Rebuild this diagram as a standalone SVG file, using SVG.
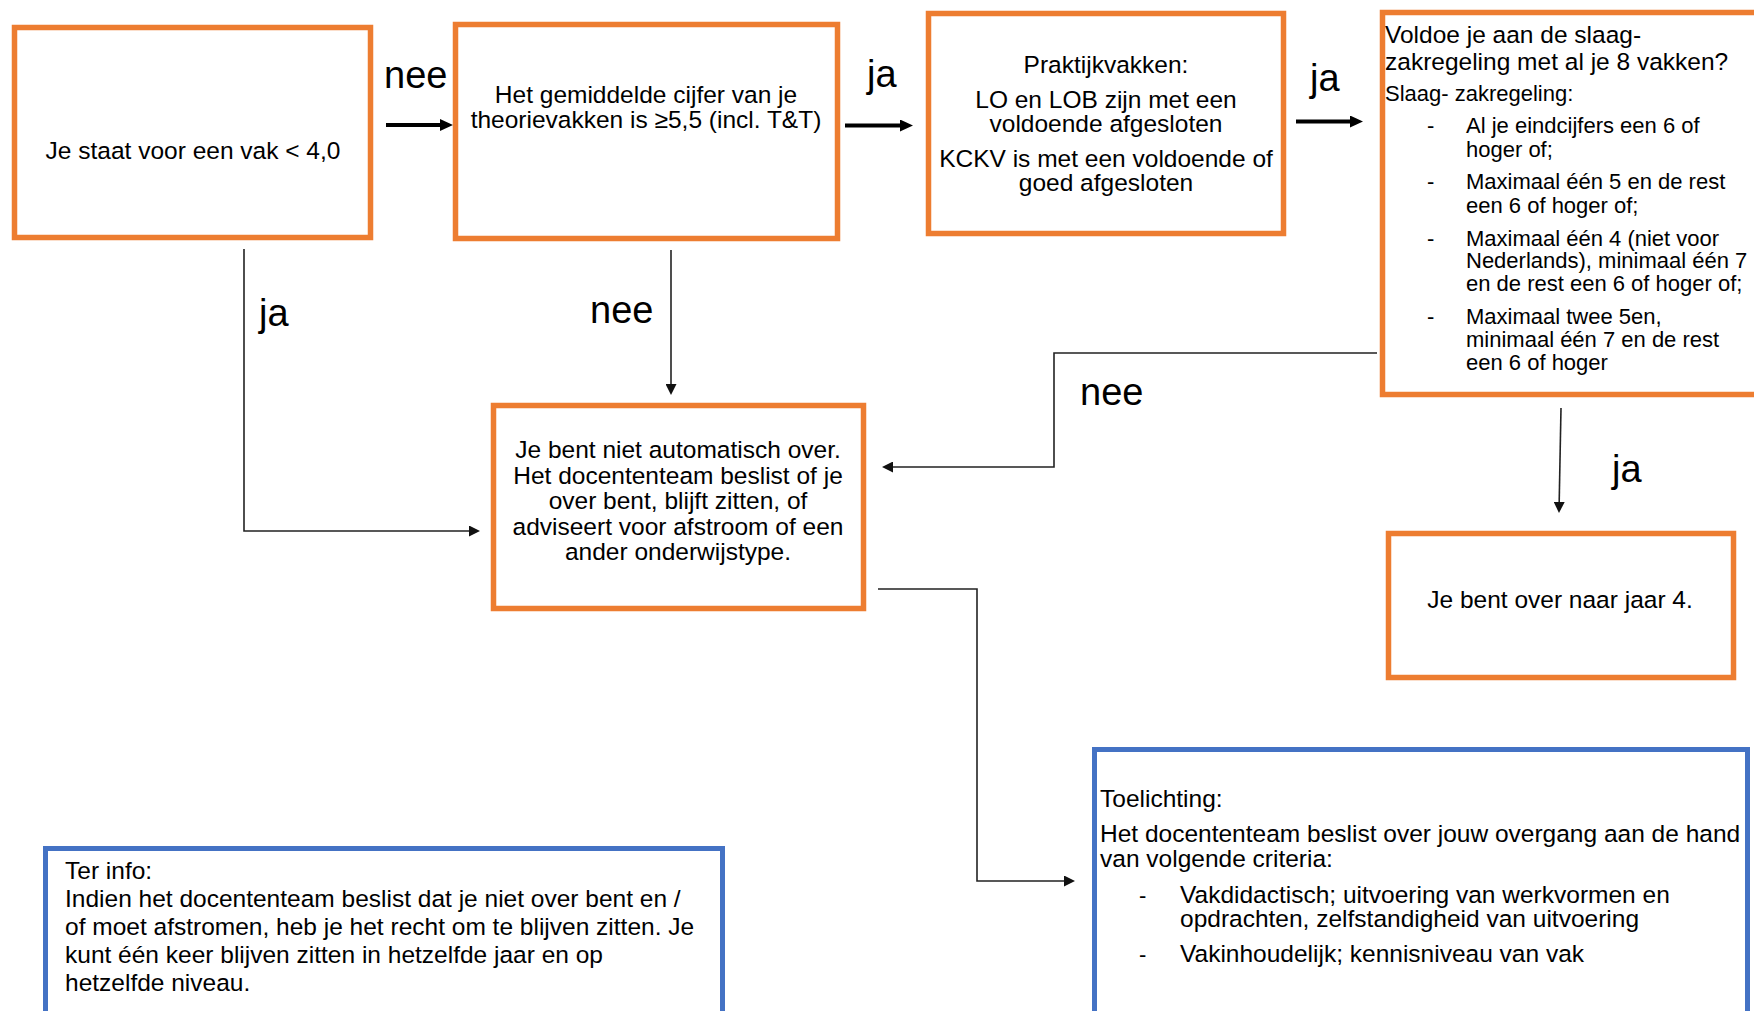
<svg xmlns="http://www.w3.org/2000/svg" width="1754" height="1011" viewBox="0 0 1754 1011">
<style>
text{font-family:"Liberation Sans",Arial,sans-serif;fill:#000}
.box{fill:#fff;stroke:#ED7D31;stroke-width:5.5}
.info{fill:#fff;stroke:#4472C4;stroke-width:5}
.t{font-size:24.5px}
.s{font-size:22px}
.c{text-anchor:middle}
.lbl{font-size:38px}
.thick{fill:none;stroke:#000;stroke-width:4}
.thin{fill:none;stroke:#222;stroke-width:1.6}
</style>
<defs>
<marker id="ah" viewBox="0 0 13 12" refX="0" refY="6" markerWidth="13" markerHeight="12" markerUnits="userSpaceOnUse" orient="auto"><path d="M0,0 L13,6 L0,12 z" fill="#000"/></marker>
<marker id="as" viewBox="0 0 11 11" refX="0" refY="5.5" markerWidth="11" markerHeight="11" markerUnits="userSpaceOnUse" orient="auto"><path d="M0,0 L11,5.5 L0,11 z" fill="#111"/></marker>
</defs>

<g id="connectors">
<path class="thick" d="M386,125 H440" marker-end="url(#ah)"/>
<path class="thick" d="M845,125.5 H900" marker-end="url(#ah)"/>
<path class="thick" d="M1296,121.5 H1350" marker-end="url(#ah)"/>
<path class="thin" d="M244,249 V531 H469" marker-end="url(#as)"/>
<path class="thin" d="M671,250 V384" marker-end="url(#as)"/>
<path class="thin" d="M1377,353 H1054 V467 H893" marker-end="url(#as)"/>
<path class="thin" d="M1561,408 L1559.2,502" marker-end="url(#as)"/>
<path class="thin" d="M878,589 H977 V881 H1064" marker-end="url(#as)"/>
<text class="lbl" x="384" y="88">nee</text>
<text class="lbl" x="867" y="87">ja</text>
<text class="lbl" x="1310" y="91">ja</text>
<text class="lbl" x="259" y="326">ja</text>
<text class="lbl" x="590" y="323">nee</text>
<text class="lbl" x="1080" y="405">nee</text>
<text class="lbl" x="1612" y="482">ja</text>
</g>

<g id="n1">
<rect class="box" x="14.5" y="27.5" width="356" height="210"/>
<text class="t c" x="193" y="159">Je staat voor een vak &lt; 4,0</text>
</g>

<g id="n2">
<rect class="box" x="455.5" y="24.5" width="382" height="214"/>
<text class="t c" x="646" y="103">Het gemiddelde cijfer van je</text>
<text class="t c" x="646" y="128">theorievakken is ≥5,5 (incl. T&amp;T)</text>
</g>

<g id="n3">
<rect class="box" x="928.5" y="13.5" width="355" height="220"/>
<text class="t c" x="1106" y="73">Praktijkvakken:</text>
<text class="t c" x="1106" y="108">LO en LOB zijn met een</text>
<text class="t c" x="1106" y="132">voldoende afgesloten</text>
<text class="t c" x="1106" y="167">KCKV is met een voldoende of</text>
<text class="t c" x="1106" y="191">goed afgesloten</text>
</g>

<g id="n4">
<rect class="box" x="1382.5" y="12.5" width="420" height="382"/>
<text class="t" x="1385" y="43">Voldoe je aan de slaag-</text>
<text class="t" x="1385" y="70">zakregeling met al je 8 vakken?</text>
<text class="s" x="1385" y="101">Slaag- zakregeling:</text>
<text class="s" x="1427" y="133">-</text>
<text class="s" x="1466" y="133">Al je eindcijfers een 6 of</text>
<text class="s" x="1466" y="157">hoger of;</text>
<text class="s" x="1427" y="189">-</text>
<text class="s" x="1466" y="189">Maximaal één 5 en de rest</text>
<text class="s" x="1466" y="213">een 6 of hoger of;</text>
<text class="s" x="1427" y="246">-</text>
<text class="s" x="1466" y="246">Maximaal één 4 (niet voor</text>
<text class="s" x="1466" y="268">Nederlands), minimaal één 7</text>
<text class="s" x="1466" y="291">en de rest een 6 of hoger of;</text>
<text class="s" x="1427" y="324">-</text>
<text class="s" x="1466" y="324">Maximaal twee 5en,</text>
<text class="s" x="1466" y="347">minimaal één 7 en de rest</text>
<text class="s" x="1466" y="370">een 6 of hoger</text>
</g>

<g id="n5">
<rect class="box" x="493.5" y="405.5" width="370" height="203"/>
<text class="t c" x="678" y="458">Je bent niet automatisch over.</text>
<text class="t c" x="678" y="484">Het docententeam beslist of je</text>
<text class="t c" x="678" y="509">over bent, blijft zitten, of</text>
<text class="t c" x="678" y="535">adviseert voor afstroom of een</text>
<text class="t c" x="678" y="560">ander onderwijstype.</text>
</g>

<g id="n6">
<rect class="box" x="1388.5" y="533.5" width="345" height="144"/>
<text class="t c" x="1560" y="608">Je bent over naar jaar 4.</text>
</g>

<g id="n7">
<rect class="info" x="1094.5" y="749.5" width="653" height="300"/>
<text class="t" x="1100" y="807">Toelichting:</text>
<text class="t" x="1100" y="842">Het docententeam beslist over jouw overgang aan de hand</text>
<text class="t" x="1100" y="867">van volgende criteria:</text>
<text class="s" x="1139" y="903">-</text>
<text class="t" x="1180" y="903">Vakdidactisch; uitvoering van werkvormen en</text>
<text class="t" x="1180" y="927">opdrachten, zelfstandigheid van uitvoering</text>
<text class="s" x="1139" y="962">-</text>
<text class="t" x="1180" y="962">Vakinhoudelijk; kennisniveau van vak</text>
</g>

<g id="n8">
<rect class="info" x="45.5" y="848.5" width="677" height="200"/>
<text class="t" x="65" y="879">Ter info:</text>
<text class="t" x="65" y="907">Indien het docententeam beslist dat je niet over bent en /</text>
<text class="t" x="65" y="935">of moet afstromen, heb je het recht om te blijven zitten. Je</text>
<text class="t" x="65" y="963">kunt één keer blijven zitten in hetzelfde jaar en op</text>
<text class="t" x="65" y="991">hetzelfde niveau.</text>
</g>
</svg>
